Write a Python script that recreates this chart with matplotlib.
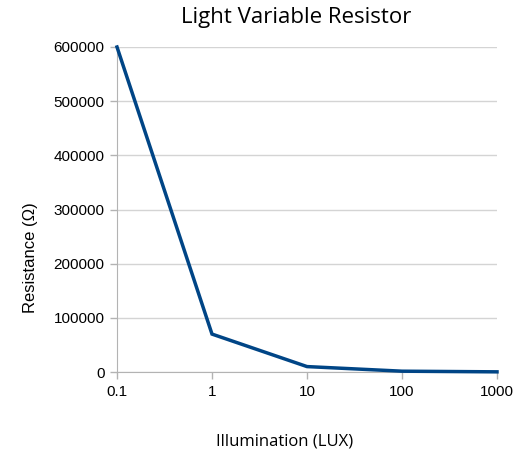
import matplotlib.pyplot as plt
import numpy as np

# 数据
lux_labels = ['0.1', '1', '10', '100', '1000']
resistance = [600000, 70000, 10000, 1500, 300]
y_ticks = [0, 100000, 200000, 300000, 400000, 500000, 600000]

W, H = 526, 462
fig = plt.figure(figsize=(W / 100, H / 100), dpi=100)
ax = fig.add_axes([117 / W, 1 - 372 / H, 380 / W, 325 / H])

x = np.arange(len(lux_labels))
ax.plot(x, resistance, color='#004586', linewidth=2.5, solid_joinstyle='miter', clip_on=False, zorder=3)

ax.set_xlim(0, len(lux_labels) - 1)
ax.set_ylim(0, 600000)
ax.set_xticks(x)
ax.set_xticklabels(lux_labels, fontsize=11, family='Liberation Sans')
ax.set_yticks(y_ticks)
ax.set_yticklabels([str(v) for v in y_ticks], fontsize=11, family='Liberation Sans')

ax.grid(axis='y', color='#d4d4d4', linewidth=1)
for s in ['top', 'right']:
    ax.spines[s].set_visible(False)
ax.spines['left'].set_color('#b3b3b3')
ax.spines['bottom'].set_color('#b3b3b3')
ax.tick_params(axis='both', color='#b3b3b3', length=5, width=1, pad=4)

# 标题和坐标轴标签（位置按原图手动放）
fig.text(296 / W, 1 - 17 / H, 'Light Variable Resistor', fontsize=16, family='Open Sans',
         ha='center', va='center')
fig.text(285 / W, 1 - 441 / H, 'Illumination (LUX)', fontsize=12, family='Open Sans',
         ha='center', va='center')
fig.text(30 / W, 1 - 258 / H, 'Resistance (Ω)', fontsize=12, family='Liberation Sans',
         ha='center', va='center', rotation=90)

plt.savefig('out.png', dpi=100)
